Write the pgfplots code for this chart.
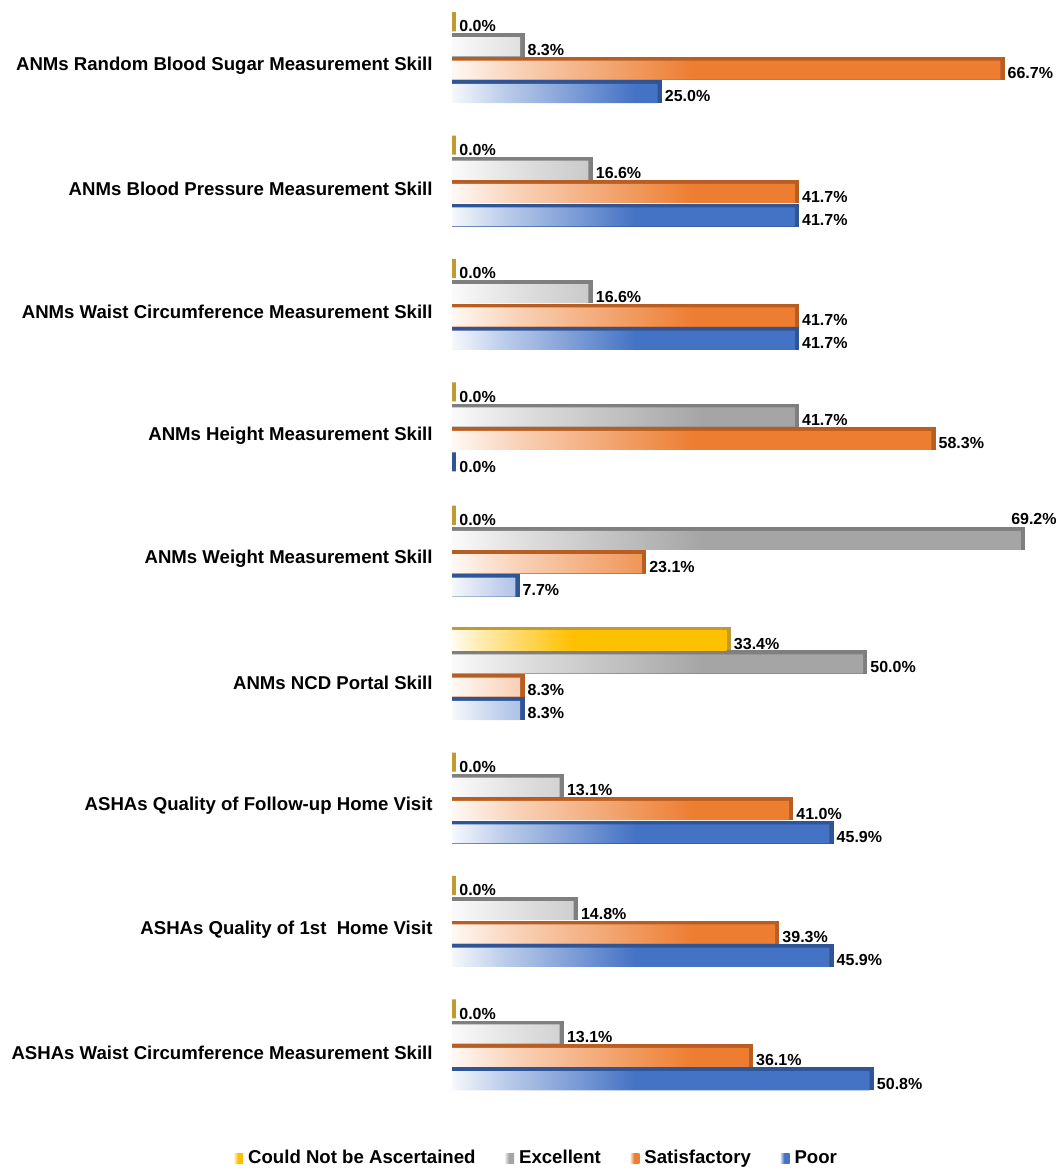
\documentclass[border=0pt]{standalone}
\usepackage{pgfplots}
\pgfplotsset{compat=1.18}
\usepackage{pgfplotstable}
\usepackage{fontspec}
\setmainfont{Liberation Sans}

\definecolor{cyel}{HTML}{FFC000}\definecolor{cyelD}{HTML}{BF9B30}
\definecolor{cgry}{HTML}{A5A5A5}\definecolor{cgryD}{HTML}{7F7F7F}
\definecolor{corg}{HTML}{ED7D31}\definecolor{corgD}{HTML}{B95E22}
\definecolor{cblu}{HTML}{4472C4}\definecolor{cbluD}{HTML}{2F5597}

\pgfdeclarehorizontalshading{shY}{100bp}{color(0bp)=(cyel!5); color(25bp)=(cyel!5); color(31bp)=(cyel!35); color(47bp)=(cyel); color(100bp)=(cyel)}
\pgfdeclarehorizontalshading{shG}{100bp}{color(0bp)=(cgry!5); color(25bp)=(cgry!5); color(31bp)=(cgry!35); color(47bp)=(cgry); color(100bp)=(cgry)}
\pgfdeclarehorizontalshading{shO}{100bp}{color(0bp)=(corg!5); color(25bp)=(corg!5); color(31bp)=(corg!35); color(47bp)=(corg); color(100bp)=(corg)}
\pgfdeclarehorizontalshading{shB}{100bp}{color(0bp)=(cblu!5); color(25bp)=(cblu!5); color(31bp)=(cblu!35); color(47bp)=(cblu); color(100bp)=(cblu)}

\pgfplotstableread{
y cna exc sat poor
8 0 8.3 66.7 25.0
7 0 16.6 41.7 41.7
6 0 16.6 41.7 41.7
5 0 41.7 58.3 0.0
4 0 69.2 23.1 7.7
3 33.4 50.0 8.3 8.3
2 0 13.1 41.0 45.9
1 0 14.8 39.3 45.9
0 0 13.1 36.1 50.8
}\datatable

\pgfplotsset{
  depth/.style={bar width=0.155, fill=#1, draw=#1, line width=2pt, xshift=1.2pt, yshift=0.9pt, forget plot},
  front/.style 2 args={bar width=0.155, draw=none, shade, shading=#1, shading angle=0,
     x filter/.expression={x<=0 ? nan : x},
     legend image code/.code={\path[fill=#2] (0pt,-2.4pt) rectangle (4.8pt,2.4pt);}},
  lbl/.style={bar width=0.155, draw=none, fill=none, forget plot, point meta=x,
     nodes near coords={\pgfmathprintnumber[fixed,fixed zerofill,precision=1,assume math mode=true]{\pgfplotspointmeta}\%},
     nodes near coords align=horizontal,
     every node near coord/.append style={font=\bfseries\fontsize{8}{9}\selectfont, anchor=west, inner sep=1pt, xshift=2.5pt, yshift=-1.5pt, text=black}},
}

\begin{document}
\begin{tikzpicture}
\begin{axis}[
  name=ax, scale only axis, width=303pt, height=560pt,
  xmin=0, xmax=73.72, ymin=-0.618, ymax=8.458,
  xbar, clip=false,
  /pgf/number format/assume math mode=true,
  axis line style={draw=none}, xtick=\empty,
  ytick={0,...,8},
  yticklabels={ASHAs Waist Circumference Measurement Skill, ASHAs Quality of 1st\ \ Home Visit, ASHAs Quality of Follow-up Home Visit, ANMs NCD Portal Skill, ANMs Weight Measurement Skill, ANMs Height Measurement Skill, ANMs Waist Circumference Measurement Skill, ANMs Blood Pressure Measurement Skill, ANMs Random Blood Sugar Measurement Skill},
  major tick length=0pt, ytick style={draw=none},
  yticklabel style={font=\bfseries\fontsize{9.3}{11}\selectfont, inner sep=0pt, xshift=-9.5pt, yshift=-4.5pt},
  legend style={at={(0.139,-0.025)}, anchor=north, draw=none, legend columns=4,
     inner sep=0pt, nodes={inner sep=1pt},
     font=\bfseries\fontsize{9.3}{11}\selectfont,
     /tikz/every odd column/.append style={column sep=1.5pt},
     /tikz/every even column/.append style={column sep=13.5pt}},
]
% depth (3D side/top faces)
\addplot[depth=cyelD, bar shift=0.2675] table[x=cna,y=y]{\datatable};
\addplot[depth=cgryD, bar shift=0.0785] table[x=exc,y=y]{\datatable};
\addplot[depth=corgD, bar shift=-0.1105] table[x=sat,y=y]{\datatable};
\addplot[depth=cbluD, bar shift=-0.2995] table[x=poor,y=y]{\datatable};
% front faces
\addplot[front={shY}{cyel}, bar shift=0.2675] table[x=cna,y=y]{\datatable};
\addlegendentry{Could Not be Ascertained}
\addplot[front={shG}{cgry}, bar shift=0.0785] table[x=exc,y=y]{\datatable};
\addlegendentry{Excellent}
\addplot[front={shO}{corg}, bar shift=-0.1105] table[x=sat,y=y]{\datatable};
\addlegendentry{Satisfactory}
\addplot[front={shB}{cblu}, bar shift=-0.2995] table[x=poor,y=y]{\datatable};
\addlegendentry{Poor}
% value labels
\addplot[lbl, bar shift=0.2675] table[x=cna,y=y]{\datatable};
\addplot[lbl, bar shift=0.0785, x filter/.expression={x>69 ? nan : x}] table[x=exc,y=y]{\datatable};
\addplot[lbl, bar shift=0.0785, x filter/.expression={x>69 ? x : nan},
   every node near coord/.append style={anchor=south west, xshift=-8.5pt, yshift=8pt}] table[x=exc,y=y]{\datatable};
\addplot[lbl, bar shift=-0.1105] table[x=sat,y=y]{\datatable};
\addplot[lbl, bar shift=-0.2995] table[x=poor,y=y]{\datatable};
\end{axis}
\path ([xshift=-226pt,yshift=-26.5pt]ax.south west) rectangle (ax.north east);
\end{tikzpicture}
\end{document}
